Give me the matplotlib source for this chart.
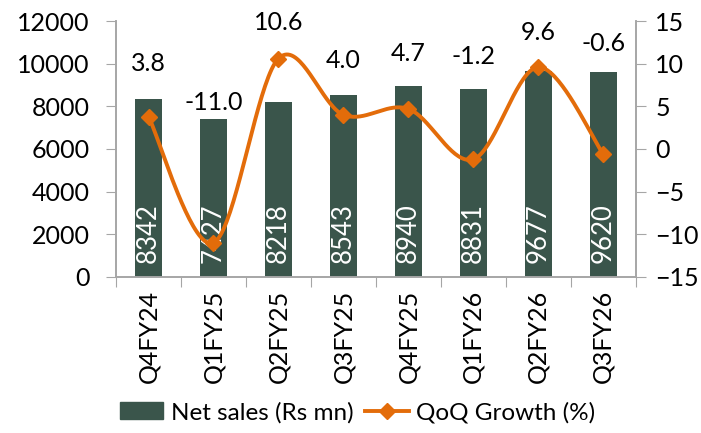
import matplotlib
matplotlib.use("Agg")
import matplotlib.pyplot as plt
import numpy as np
from matplotlib.patches import Patch
from matplotlib.lines import Line2D

categories = ["Q4FY24", "Q1FY25", "Q2FY25", "Q3FY25", "Q4FY25", "Q1FY26", "Q2FY26", "Q3FY26"]
net_sales = [8342, 7427, 8218, 8543, 8940, 8831, 9677, 9620]
qoq_growth = [3.8, -11.0, 10.6, 4.0, 4.7, -1.2, 9.6, -0.6]
growth_label_y = [10.0, 5.4, 14.8, 10.4, 11.2, 10.8, 13.6, 12.4]  # label placement (right-axis units)

bar_color = "#3A554B"
line_color = "#E36C0A"
spine_color = "#A6A6A6"

plt.rcParams['font.family'] = ['Lato', 'DejaVu Sans']
fs = 18

fig = plt.figure(figsize=(7.01, 4.33), dpi=100)
ax = fig.add_axes([0.1655, 0.3603, 0.7415, 0.5912])
ax2 = ax.twinx()

x = np.arange(len(categories))
bars = ax.bar(x, net_sales, width=0.41, color=bar_color, zorder=2)
for xi, v in zip(x, net_sales):
    ax.text(xi, 650, f"{v}", rotation=90, ha="center", va="bottom", color="white", fontsize=18.5)

ax.set_ylim(0, 12000)
ax.set_yticks(np.arange(0, 12001, 2000))
ax.set_xlim(-0.5, len(categories) - 0.5)
ax.set_xticks(np.arange(-0.5, len(categories), 1.0), minor=False)
ax.set_xticklabels([])
ax.set_xticks(x, minor=True)
ax.set_xticklabels(categories, minor=True, rotation=90, fontsize=fs)
ax.tick_params(axis="x", which="minor", length=0, pad=9)
ax.tick_params(axis="x", which="major", length=7, color=spine_color, direction="out")
ax.tick_params(axis="y", labelsize=fs, length=7, color=spine_color, direction="out", pad=12)

ax2.set_ylim(-15, 15)
ax2.set_yticks(np.arange(-15, 16, 5))
ax2.tick_params(axis="y", labelsize=fs, length=7, color=spine_color, direction="out", pad=7)

for a in (ax, ax2):
    a.spines["top"].set_visible(False)
    for s in ("left", "right", "bottom"):
        a.spines[s].set_color(spine_color)
        a.spines[s].set_linewidth(1.2)

# Smoothed line (Bezier with Catmull-Rom tangents, like Excel's smoothed line)
yv = np.array(qoq_growth, dtype=float)
xs_all, ys_all = [], []
n = len(yv)
for i in range(n - 1):
    p0 = yv[i - 1] if i > 0 else yv[i]
    p1, p2 = yv[i], yv[i + 1]
    p3 = yv[i + 2] if i + 2 < n else yv[i + 1]
    x0 = x[i - 1] if i > 0 else x[i]
    x3 = x[i + 2] if i + 2 < n else x[i + 1]
    c1x = x[i] + (x[i + 1] - x0) / 6
    c1y = p1 + (p2 - p0) / 6
    c2x = x[i + 1] - (x3 - x[i]) / 6
    c2y = p2 - (p3 - p1) / 6
    t = np.linspace(0, 1, 40)
    bx = (1 - t) ** 3 * x[i] + 3 * (1 - t) ** 2 * t * c1x + 3 * (1 - t) * t ** 2 * c2x + t ** 3 * x[i + 1]
    by = (1 - t) ** 3 * p1 + 3 * (1 - t) ** 2 * t * c1y + 3 * (1 - t) * t ** 2 * c2y + t ** 3 * p2
    xs_all.extend(bx)
    ys_all.extend(by)
ax2.plot(xs_all, ys_all, color=line_color, lw=2.8, zorder=3)
ax2.plot(x, yv, linestyle="none", marker="D", markersize=8, color=line_color, zorder=4)

for xi, v, ly in zip(x, qoq_growth, growth_label_y):
    ax2.text(xi, ly, f"{v:.1f}", ha="center", va="center", fontsize=fs, color="black")

handles = [Patch(facecolor=bar_color, edgecolor=bar_color),
           Line2D([0], [0], color=line_color, lw=2.8, marker="D", markersize=8)]
fig.legend(handles, ["Net sales (Rs mn)", "QoQ Growth (%)"], loc="center",
           bbox_to_anchor=(0.51, 0.047), ncol=2, frameon=False, fontsize=17.5,
           handlelength=1.8, handletextpad=0.3, columnspacing=0.5)

fig.savefig("out.png", dpi=100)
